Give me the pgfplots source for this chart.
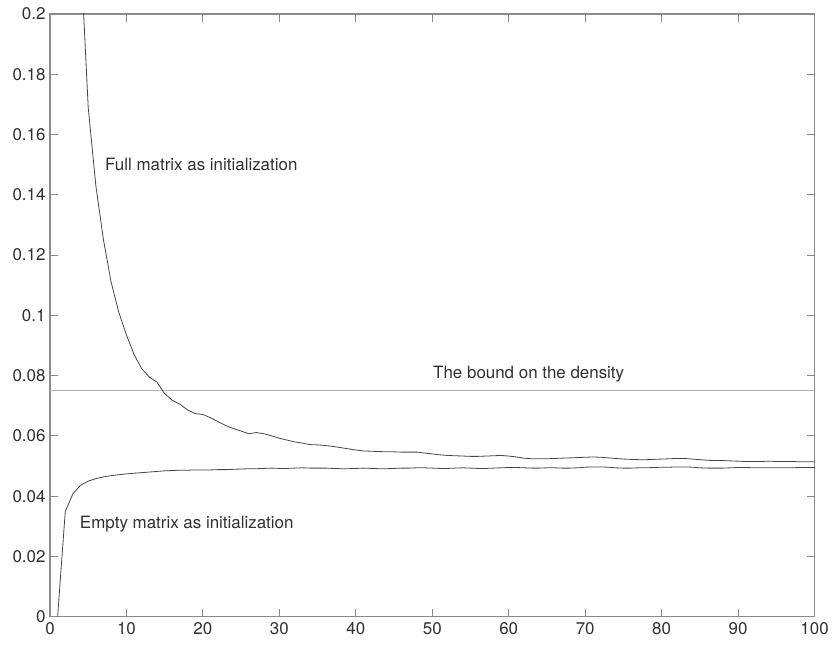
\documentclass[border=0pt]{standalone}
\usepackage{fontspec}
\setmainfont{TeX Gyre Heros}
\usepackage{pgfplots}
\pgfplotsset{compat=1.18}
\usepackage{pgfplotstable}

\definecolor{axisgray}{HTML}{8A8A8A}
\definecolor{curvegray}{HTML}{454545}
\definecolor{boundgray}{HTML}{B4B4B4}
\definecolor{textgray}{HTML}{303030}

% density per iteration, x = 1..100
\pgfplotstableread{
x full empty
1 1.0 0.0
2 0.5 0.0349
3 0.31 0.0408
4 0.221 0.0436
5 0.169 0.0450
6 0.143 0.0458
7 0.125 0.0464
8 0.111 0.0468
9 0.101 0.0471
10 0.0935 0.0474
11 0.0870 0.0476
12 0.0823 0.0478
13 0.0795 0.0480
14 0.0778 0.0482
15 0.0740 0.0484
16 0.0718 0.0485
17 0.0705 0.0486
18 0.0686 0.0486
19 0.0674 0.0487
20 0.0671 0.0487
21 0.0660 0.0487
22 0.0647 0.0488
23 0.0634 0.0488
24 0.0624 0.0489
25 0.0616 0.0490
26 0.0607 0.0491
27 0.0611 0.0491
28 0.0607 0.0492
29 0.0600 0.0493
30 0.0592 0.0492
31 0.0586 0.0492
32 0.0580 0.0493
33 0.0576 0.0494
34 0.0571 0.0493
35 0.0570 0.0493
36 0.0568 0.0493
37 0.0565 0.0492
38 0.0561 0.0491
39 0.0557 0.0491
40 0.0553 0.0492
41 0.0550 0.0493
42 0.0549 0.0492
43 0.0548 0.0491
44 0.0547 0.0491
45 0.0547 0.0492
46 0.0546 0.0493
47 0.0546 0.0493
48 0.0546 0.0494
49 0.0543 0.0494
50 0.0540 0.0493
51 0.0537 0.0492
52 0.0535 0.0492
53 0.0534 0.0493
54 0.0533 0.0494
55 0.0532 0.0493
56 0.0532 0.0492
57 0.0533 0.0492
58 0.0534 0.0493
59 0.0535 0.0494
60 0.0533 0.0495
61 0.0530 0.0495
62 0.0526 0.0494
63 0.0524 0.0493
64 0.0524 0.0493
65 0.0524 0.0494
66 0.0525 0.0494
67 0.0526 0.0493
68 0.0527 0.0493
69 0.0528 0.0494
70 0.0529 0.0496
71 0.0530 0.0497
72 0.0529 0.0497
73 0.0527 0.0496
74 0.0525 0.0494
75 0.0523 0.0493
76 0.0522 0.0493
77 0.0521 0.0494
78 0.0521 0.0494
79 0.0522 0.0495
80 0.0523 0.0496
81 0.0524 0.0496
82 0.0525 0.0497
83 0.0525 0.0497
84 0.0523 0.0496
85 0.0521 0.0494
86 0.0519 0.0493
87 0.0518 0.0493
88 0.0518 0.0493
89 0.0517 0.0494
90 0.0516 0.0495
91 0.0515 0.0495
92 0.0515 0.0494
93 0.0515 0.0494
94 0.0516 0.0494
95 0.0515 0.0494
96 0.0515 0.0494
97 0.0515 0.0494
98 0.0514 0.0495
99 0.0514 0.0495
100 0.0514 0.0495
}\density

\begin{document}
\begin{tikzpicture}
\begin{axis}[
    scale only axis,
    width=765bp, height=603bp,
    xmin=0, xmax=100, ymin=0, ymax=0.2,
    xtick={0,10,...,100},
    ytick={0,0.02,0.04,0.06,0.08,0.1,0.12,0.14,0.16,0.18,0.2},
    tick align=inside,
    tick pos=both,
    major tick length=8bp,
    axis line style={axisgray, line width=1.1pt},
    every tick/.style={axisgray, line width=0.9pt},
    tick label style={font=\fontsize{17}{20}\selectfont, text=textgray},
    /pgf/number format/assume math mode=true,
    yticklabel style={/pgf/number format/fixed, /pgf/number format/precision=2},
    xticklabel style={yshift=-2bp},
    yticklabel style={xshift=-1bp},
]
\addplot[boundgray, line width=1.1pt] coordinates {(0,0.075) (100,0.075)};
\addplot[curvegray, line width=0.8pt] table[x=x, y=full] {\density};
\addplot[curvegray, line width=0.8pt] table[x=x, y=empty] {\density};
\node[anchor=west, text=textgray, font=\fontsize{17}{20}\selectfont, inner sep=0pt] at (axis cs:7.2,0.150) {Full matrix as initialization};
\node[anchor=west, text=textgray, font=\fontsize{17}{20}\selectfont, inner sep=0pt] at (axis cs:50.1,0.0806) {The bound on the density};
\node[anchor=west, text=textgray, font=\fontsize{17}{20}\selectfont, inner sep=0pt] at (axis cs:3.9,0.0308) {Empty matrix as initialization};
\end{axis}
% page margins as in the original figure
\path ([xshift=-50bp,yshift=-30bp]current axis.south west) rectangle ([xshift=17bp,yshift=14bp]current axis.north east);
\end{tikzpicture}
\end{document}
